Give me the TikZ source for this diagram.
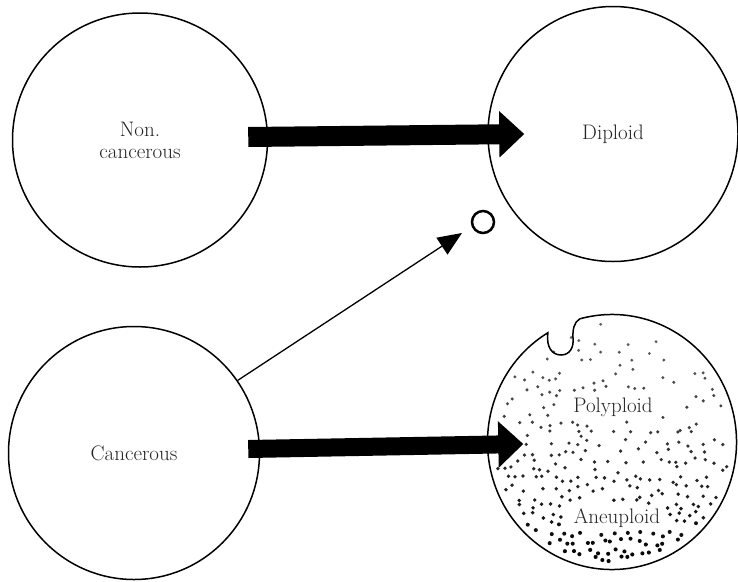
\documentclass[tikz,border=0pt]{standalone}
\usepackage{fontspec}
\usetikzlibrary{arrows.meta,shapes.geometric,calc}
\begin{document}
\begin{tikzpicture}[x=1pt,y=-1pt,
  cell/.style={ellipse,draw,line width=1.5pt,inner sep=0pt,font=\fontsize{21}{22}\selectfont,text=black!85,align=center},
  lbl/.style={inner sep=1pt,font=\fontsize{21}{22}\selectfont,text=black!85},
  fat/.style={line width=#1,-{Triangle[length=25pt,width=45pt]}},
  thinarrow/.style={line width=1.3pt,-{Triangle[length=24pt,width=20pt]}},
  ring/.style={circle,draw,line width=2.5pt,minimum size=22pt,inner sep=0pt}]
\fill[white] (0,0) rectangle (738,581);
\useasboundingbox (0,0) rectangle (738,581);

\node[cell,minimum width=255pt,minimum height=254pt] (noncan) at (140,140) {Non.\\cancerous};
\node[cell,minimum width=250pt,minimum height=255pt] (diploid) at (613,134) {Diploid};
\node[cell,minimum width=251pt,minimum height=253pt] (cancer) at (134,453) {Cancerous};
\node[ellipse,minimum width=249pt,minimum height=255pt,inner sep=0pt] (polyploid) at (612,442) {};
\node[ring] (smallo) at (483,222) {};

% stippling (jittered grid, denser towards the bottom)
\pgfmathsetseed{4242}
\foreach \gx in {0,...,27}{%
  \foreach \gy in {0,...,28}{%
    \pgfmathsetmacro{\ptx}{490+9*\gx+4.5*mod(\gy,2)+7*rnd-3.5}%
    \pgfmathsetmacro{\pty}{317+9*\gy+7*rnd-3.5}%
    \pgfmathsetmacro{\myT}{max(0,min(1,(\pty-315)/255))}%
    \pgfmathtruncatemacro{\keep}{((((\ptx-612)/118)^2+((\pty-442)/121)^2)<1) && (rnd<0.24+0.9*\myT^1.5) && !((abs(\pty-407)<14) && (abs(\ptx-613)<48)) && !((abs(\pty-518)<14) && (abs(\ptx-617)<50)) ? 1 : 0}%
    \ifnum\keep=1
      \pgfmathtruncatemacro{\sh}{60+40*\myT}%
      \pgfmathsetmacro{\rr}{1.5+0.6*\myT}%
      \fill[black!\sh] (\ptx,\pty) circle[radius=\rr pt];
    \fi
  }%
}

\node[lbl] (poly) at (613,407) {Polyploid};
\node[lbl] (aneu) at (617,518) {Aneuploid};

% border of the cancerous-result cell with its notch
\draw[line width=1.5pt] ($(polyploid.center)+(105:124.5pt and 127.5pt)$)
  arc[start angle=105,end angle=-239,x radius=124.5pt,y radius=127.5pt]
  .. controls (546,347) and (552,355) .. (561,355)
  .. controls (570,355) and (574,347) .. (573,338)
  .. controls (572.5,330) and (574,322) .. ($(polyploid.center)+(105:124.5pt and 127.5pt)$);

% arrows
\draw[fat=20pt] ([shift={(-20pt,3pt)}]noncan.east) -- ([xshift=37pt]diploid.west);
\draw[fat=18pt] ([shift={(-12pt,4pt)}]cancer.east) -- ([shift={(36pt,-2pt)}]polyploid.west);
\coordinate (tipc) at ([shift={(-21pt,-11pt)}]smallo.center);
\draw[thinarrow] (cancer.35) -- (tipc);
\end{tikzpicture}
\end{document}
